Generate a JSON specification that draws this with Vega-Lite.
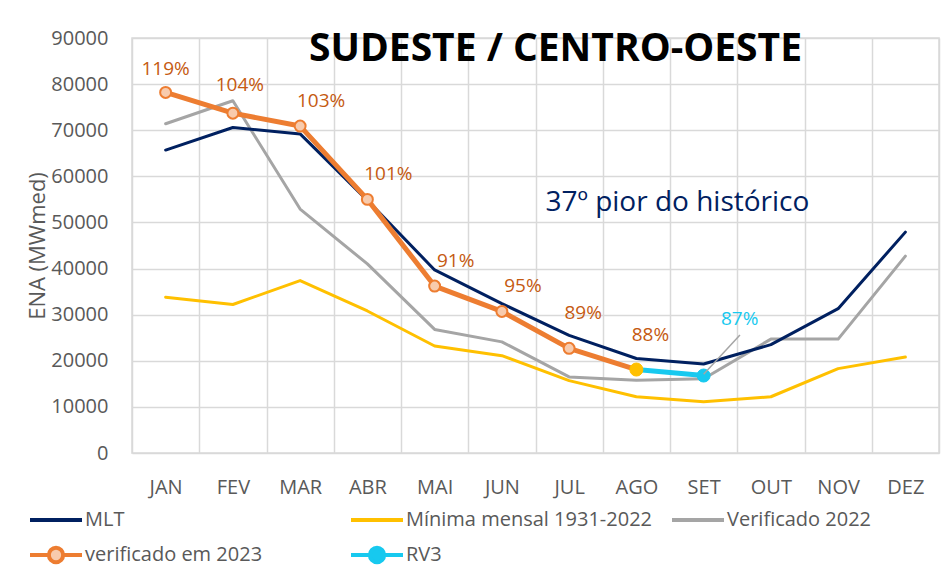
{
  "$schema": "https://vega.github.io/schema/vega-lite/v6.json",
  "width": 807,
  "height": 415,
  "autosize": {"type": "none"},
  "padding": {"left": 132, "top": 38, "right": 11, "bottom": 114},
  "background": "white",
  "config": {
    "font": "Open Sans",
    "view": {"stroke": "#d9d9d9", "strokeWidth": 1.5},
    "axis": {
      "labelFont": "Open Sans",
      "labelFontSize": 20,
      "labelColor": "#595959",
      "titleFont": "Open Sans",
      "titleFontSize": 22,
      "titleFontWeight": "normal",
      "titleColor": "#595959",
      "gridColor": "#d9d9d9",
      "gridWidth": 1.5,
      "domain": false,
      "ticks": false
    }
  },
  "title": {
    "text": "SUDESTE / CENTRO-OESTE",
    "anchor": "middle",
    "frame": "group",
    "font": "Open Sans",
    "fontSize": 39,
    "fontWeight": "bold",
    "color": "#000000",
    "baseline": "alphabetic",
    "dx": 20,
    "offset": -72
  },
  "datasets": {
    "series": [
      {"mes": "JAN", "serie": "Mínima mensal 1931-2022", "valor": 33800},
      {"mes": "FEV", "serie": "Mínima mensal 1931-2022", "valor": 32200},
      {"mes": "MAR", "serie": "Mínima mensal 1931-2022", "valor": 37400},
      {"mes": "ABR", "serie": "Mínima mensal 1931-2022", "valor": 30800},
      {"mes": "MAI", "serie": "Mínima mensal 1931-2022", "valor": 23200},
      {"mes": "JUN", "serie": "Mínima mensal 1931-2022", "valor": 21100},
      {"mes": "JUL", "serie": "Mínima mensal 1931-2022", "valor": 15700},
      {"mes": "AGO", "serie": "Mínima mensal 1931-2022", "valor": 12200},
      {"mes": "SET", "serie": "Mínima mensal 1931-2022", "valor": 11100},
      {"mes": "OUT", "serie": "Mínima mensal 1931-2022", "valor": 12200},
      {"mes": "NOV", "serie": "Mínima mensal 1931-2022", "valor": 18300},
      {"mes": "DEZ", "serie": "Mínima mensal 1931-2022", "valor": 20800},
      {"mes": "JAN", "serie": "Verificado 2022", "valor": 71400},
      {"mes": "FEV", "serie": "Verificado 2022", "valor": 76400},
      {"mes": "MAR", "serie": "Verificado 2022", "valor": 52900},
      {"mes": "ABR", "serie": "Verificado 2022", "valor": 41000},
      {"mes": "MAI", "serie": "Verificado 2022", "valor": 26800},
      {"mes": "JUN", "serie": "Verificado 2022", "valor": 24100},
      {"mes": "JUL", "serie": "Verificado 2022", "valor": 16500},
      {"mes": "AGO", "serie": "Verificado 2022", "valor": 15800},
      {"mes": "SET", "serie": "Verificado 2022", "valor": 16100},
      {"mes": "OUT", "serie": "Verificado 2022", "valor": 24700},
      {"mes": "NOV", "serie": "Verificado 2022", "valor": 24700},
      {"mes": "DEZ", "serie": "Verificado 2022", "valor": 42700},
      {"mes": "JAN", "serie": "MLT", "valor": 65700},
      {"mes": "FEV", "serie": "MLT", "valor": 70600},
      {"mes": "MAR", "serie": "MLT", "valor": 69200},
      {"mes": "ABR", "serie": "MLT", "valor": 54800},
      {"mes": "MAI", "serie": "MLT", "valor": 39700},
      {"mes": "JUN", "serie": "MLT", "valor": 32400},
      {"mes": "JUL", "serie": "MLT", "valor": 25500},
      {"mes": "AGO", "serie": "MLT", "valor": 20500},
      {"mes": "SET", "serie": "MLT", "valor": 19300},
      {"mes": "OUT", "serie": "MLT", "valor": 23500},
      {"mes": "NOV", "serie": "MLT", "valor": 31300},
      {"mes": "DEZ", "serie": "MLT", "valor": 47900},
      {"mes": "JAN", "serie": "verificado em 2023", "valor": 78200, "pct": "119%"},
      {"mes": "FEV", "serie": "verificado em 2023", "valor": 73700, "pct": "104%"},
      {"mes": "MAR", "serie": "verificado em 2023", "valor": 70900, "pct": "103%"},
      {"mes": "ABR", "serie": "verificado em 2023", "valor": 55000, "pct": "101%"},
      {"mes": "MAI", "serie": "verificado em 2023", "valor": 36200, "pct": "91%"},
      {"mes": "JUN", "serie": "verificado em 2023", "valor": 30700, "pct": "95%"},
      {"mes": "JUL", "serie": "verificado em 2023", "valor": 22700, "pct": "89%"},
      {"mes": "AGO", "serie": "verificado em 2023", "valor": 18100, "pct": "88%"},
      {"mes": "AGO", "serie": "RV3", "valor": 18100},
      {"mes": "SET", "serie": "RV3", "valor": 16800, "pct": "87%"}
    ],
    "leader": [{"i": 9, "v": 17100, "i2": 9.54, "v2": 25600}],
    "nota": [{"mes": "AGO", "valor": 54200, "texto": "37º pior do histórico"}]
  },
  "layer": [
    {
      "data": {"name": "series"},
      "encoding": {
        "x": {
          "field": "mes",
          "type": "ordinal",
          "scale": {"domain": ["JAN", "FEV", "MAR", "ABR", "MAI", "JUN", "JUL", "AGO", "SET", "OUT", "NOV", "DEZ"], "paddingInner": 0, "paddingOuter": 0},
          "axis": {"title": null, "labelAngle": 0, "labelPadding": 24, "grid": true, "tickBand": "extent"}
        },
        "y": {
          "field": "valor",
          "type": "quantitative",
          "scale": {"domain": [0, 90000], "nice": false},
          "axis": {"title": "ENA (MWmed)", "values": [0, 10000, 20000, 30000, 40000, 50000, 60000, 70000, 80000, 90000], "format": "d", "labelPadding": 24, "titlePadding": 1, "grid": true}
        }
      },
      "layer": [
        {
          "transform": [{"filter": "datum.serie === 'MLT' || datum.serie === 'Mínima mensal 1931-2022' || datum.serie === 'Verificado 2022'"}],
          "mark": {"type": "line", "strokeWidth": 3, "strokeJoin": "round", "strokeCap": "round"},
          "encoding": {
            "color": {
              "field": "serie",
              "type": "nominal",
              "scale": {
                "domain": ["MLT", "Mínima mensal 1931-2022", "Verificado 2022", "verificado em 2023", "RV3"],
                "range": ["#002060", "#ffc000", "#a5a5a5", "#ed7d31", "#17c9ef"]
              },
              "legend": {
                "title": null,
                "orient": "none",
                "direction": "horizontal",
                "legendX": -104,
                "legendY": 464,
                "columns": 3,
                "gridAlign": "all",
                "columnPadding": 12,
                "rowPadding": 6,
                "symbolSize": 676,
                "symbolStrokeWidth": 4,
                "symbolType": "M-1,0H3",
                "labelOffset": 27,
                "labelFont": "Open Sans",
                "labelFontSize": 20,
                "labelColor": "#595959",
                "labelLimit": 400,
                "encode": {
                  "symbols": {
                    "update": {
                      "shape": {"signal": "(datum.value === 'verificado em 2023' || datum.value === 'RV3') ? 'M-1,0H0.45M1.55,0H3M1.55,0A0.55,0.55,0,1,1,0.45,0A0.55,0.55,0,1,1,1.55,0' : 'M-1,0H3'"},
                      "fill": {"signal": "datum.value === 'verificado em 2023' ? '#f8cbad' : (datum.value === 'RV3' ? '#17c9ef' : 'transparent')"},
                      "strokeWidth": {"value": 4}
                    }
                  }
                }
              }
            }
          }
        },
        {
          "transform": [{"filter": "datum.serie === 'verificado em 2023' || datum.serie === 'RV3'"}],
          "mark": {"type": "line", "strokeWidth": 5, "strokeJoin": "round", "strokeCap": "round"},
          "encoding": {"color": {"field": "serie", "type": "nominal", "legend": null}}
        },
        {
          "transform": [{"filter": "datum.serie === 'verificado em 2023' && datum.mes !== 'AGO'"}],
          "mark": {"type": "point", "shape": "circle", "filled": true, "fill": "#f8cbad", "stroke": "#ed7d31", "strokeWidth": 2, "size": 120, "opacity": 1}
        },
        {
          "transform": [{"filter": "datum.serie === 'verificado em 2023' && datum.mes === 'AGO'"}],
          "mark": {"type": "point", "shape": "circle", "filled": true, "fill": "#ffc000", "stroke": "#ffc000", "strokeWidth": 1, "size": 170, "opacity": 1}
        },
        {
          "transform": [{"filter": "datum.serie === 'RV3' && datum.mes === 'SET'"}],
          "mark": {"type": "point", "shape": "circle", "filled": true, "fill": "#17c9ef", "stroke": "#17c9ef", "strokeWidth": 1, "size": 170, "opacity": 1}
        },
        {
          "transform": [{"filter": "datum.serie === 'verificado em 2023' && datum.mes === 'JAN'"}],
          "mark": {"type": "text", "font": "Open Sans", "fontSize": 19, "color": "#c55a11", "baseline": "middle", "align": "center", "dx": 0, "dy": -23},
          "encoding": {"text": {"field": "pct"}}
        },
        {
          "transform": [{"filter": "datum.serie === 'verificado em 2023' && datum.mes === 'FEV'"}],
          "mark": {"type": "text", "font": "Open Sans", "fontSize": 19, "color": "#c55a11", "baseline": "middle", "align": "center", "dx": 7, "dy": -28},
          "encoding": {"text": {"field": "pct"}}
        },
        {
          "transform": [{"filter": "datum.serie === 'verificado em 2023' && indexof(['MAR','ABR','MAI','JUN'], datum.mes) >= 0"}],
          "mark": {"type": "text", "font": "Open Sans", "fontSize": 19, "color": "#c55a11", "baseline": "middle", "align": "center", "dx": 21, "dy": -25},
          "encoding": {"text": {"field": "pct"}}
        },
        {
          "transform": [{"filter": "datum.serie === 'verificado em 2023' && indexof(['JUL','AGO'], datum.mes) >= 0"}],
          "mark": {"type": "text", "font": "Open Sans", "fontSize": 19, "color": "#c55a11", "baseline": "middle", "align": "center", "dx": 14, "dy": -35},
          "encoding": {"text": {"field": "pct"}}
        },
        {
          "transform": [{"filter": "datum.serie === 'RV3' && datum.mes === 'SET'"}],
          "mark": {"type": "text", "font": "Open Sans", "fontSize": 19, "color": "#17c9ef", "baseline": "middle", "align": "center", "dx": 36, "dy": -57},
          "encoding": {"text": {"field": "pct"}}
        },
        {
          "data": {"name": "nota"},
          "mark": {"type": "text", "font": "Open Sans", "fontSize": 28, "color": "#002060", "baseline": "middle", "align": "center", "dx": 41},
          "encoding": {"text": {"field": "texto"}}
        }
      ]
    },
    {
      "data": {"name": "leader"},
      "mark": {"type": "rule", "color": "#a5a5a5", "strokeWidth": 1.5},
      "encoding": {
        "x": {"field": "i", "type": "quantitative", "scale": {"domain": [0.5, 12.5], "nice": false, "zero": false}, "axis": null},
        "x2": {"field": "i2"},
        "y": {"field": "v", "type": "quantitative", "scale": {"domain": [0, 90000], "nice": false}},
        "y2": {"field": "v2"}
      }
    }
  ],
  "resolve": {"scale": {"x": "independent"}}
}
